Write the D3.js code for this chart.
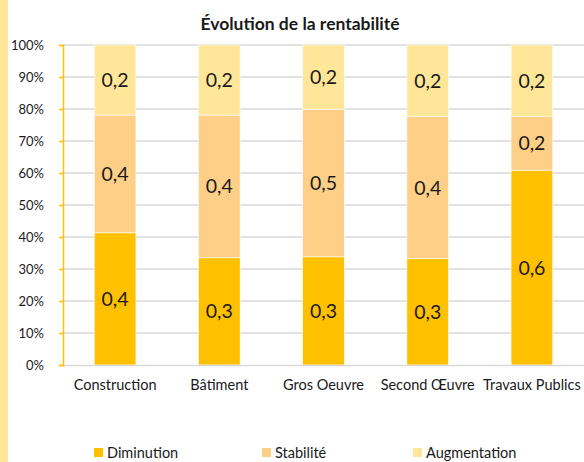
<!DOCTYPE html>
<html>
<head>
<meta charset="utf-8">
<script src="https://cdn.jsdelivr.net/npm/d3@7"></script>
<style>
  body { margin: 0; background: #fff; }
  svg { display: block; font-family: Lato, "Open Sans", sans-serif; }
</style>
</head>
<body>
<svg id="chart" width="584" height="462"></svg>
<script>
const categories = ["Construction", "Bâtiment", "Gros Oeuvre", "Second Œuvre", "Travaux Publics"]
const seriesNames = ["Diminution", "Stabilité", "Augmentation"]
const diminution = [0.413, 0.335, 0.338, 0.332, 0.609]
const stabilite = [0.368, 0.446, 0.461, 0.444, 0.167]
const augmentation = [0.219, 0.219, 0.201, 0.224, 0.224]
const yTicks = [0, 0.1, 0.2, 0.3, 0.4, 0.5, 0.6, 0.7, 0.8, 0.9, 1]

const colours = ["#ffc000", "#fecf86", "#ffe699"]
const font = "Lato, 'Open Sans', sans-serif"

const width = 584, height = 462
const margin = { top: 45, right: 0, bottom: 97, left: 63 }
const innerWidth = width - margin.left - margin.right
const innerHeight = height - margin.top - margin.bottom

const svg = d3.select("#chart")

// yellow strip on the left edge
svg.append("rect").attr("x", 0).attr("y", 0).attr("width", 8).attr("height", height).attr("fill", "#ffe699")

svg.append("text")
    .attr("x", 300).attr("y", 30)
    .attr("text-anchor", "middle")
    .attr("font-weight", "bold").attr("font-size", 17.5)
    .attr("fill", "#1a1a1a")
    .text("Évolution de la rentabilité")

const rows = categories.map((c, i) => ({
    category: c,
    Diminution: diminution[i],
    "Stabilité": stabilite[i],
    Augmentation: augmentation[i],
}))
const stacked = d3.stack().keys(seriesNames)(rows)

const x = d3.scaleBand().domain(categories).range([0, innerWidth]).paddingInner(0.6).paddingOuter(0.3)
const y = d3.scaleLinear().domain([0, 1]).range([innerHeight, 0])

const g = svg.append("g").attr("transform", `translate(${margin.left},${margin.top})`)

// gridlines
g.append("g")
    .selectAll("line")
    .data(yTicks.slice(1))
    .join("line")
    .attr("x1", 0).attr("x2", innerWidth)
    .attr("y1", (d) => y(d)).attr("y2", (d) => y(d))
    .attr("stroke", "#d9d9d9").attr("stroke-width", 1.5)

// bars
stacked.forEach((layer, li) => {
    g.append("g")
        .selectAll("rect")
        .data(layer)
        .join("rect")
        .attr("x", (d) => x(d.data.category))
        .attr("width", x.bandwidth())
        .attr("y", (d) => y(d[1]))
        .attr("height", (d) => y(d[0]) - y(d[1]))
        .attr("fill", colours[li])
        .attr("stroke", "#fff").attr("stroke-width", 0.6)

    g.append("g")
        .selectAll("text")
        .data(layer)
        .join("text")
        .attr("x", (d) => x(d.data.category) + x.bandwidth() / 2)
        .attr("y", (d) => (y(d[0]) + y(d[1])) / 2)
        .attr("dy", "0.36em")
        .attr("text-anchor", "middle")
        .attr("font-size", 19.5)
        .attr("fill", "#1a1a1a")
        .text((d) => d3.format(".1f")(d[1] - d[0]).replace(".", ","))
})

// bottom axis
const xAxis = g.append("g")
    .attr("transform", `translate(0,${innerHeight})`)
    .call(d3.axisBottom(x).tickSize(0).tickPadding(15))
xAxis.select(".domain").attr("stroke", "#d9d9d9").attr("stroke-width", 1.5)
xAxis.selectAll("text").attr("font-size", 14.5).attr("fill", "#1a1a1a").style("font-family", font)

// left axis
const yAxis = g.append("g")
    .call(d3.axisLeft(y).tickValues(yTicks).tickSize(4).tickSizeOuter(4).tickPadding(15).tickFormat(d3.format(".0%")))
yAxis.select(".domain").attr("stroke", "#ffc000").attr("stroke-width", 1.5)
yAxis.selectAll(".tick line").attr("stroke", "#ffc000").attr("stroke-width", 1.5)
yAxis.selectAll("text").attr("font-size", 13).attr("fill", "#1a1a1a").style("font-family", font)

// legend
const legendX = [94, 262, 413]
const legend = svg.append("g")
    .selectAll("g")
    .data(seriesNames)
    .join("g")
    .attr("transform", (d, i) => `translate(${legendX[i]},448)`)
legend.append("rect").attr("width", 9).attr("height", 9).attr("fill", (d, i) => colours[i])
legend.append("text")
    .attr("x", 13).attr("y", 4.5).attr("dy", "0.36em")
    .attr("font-size", 14.5).attr("fill", "#1a1a1a")
    .text((d) => d)
</script>
</body>
</html>
